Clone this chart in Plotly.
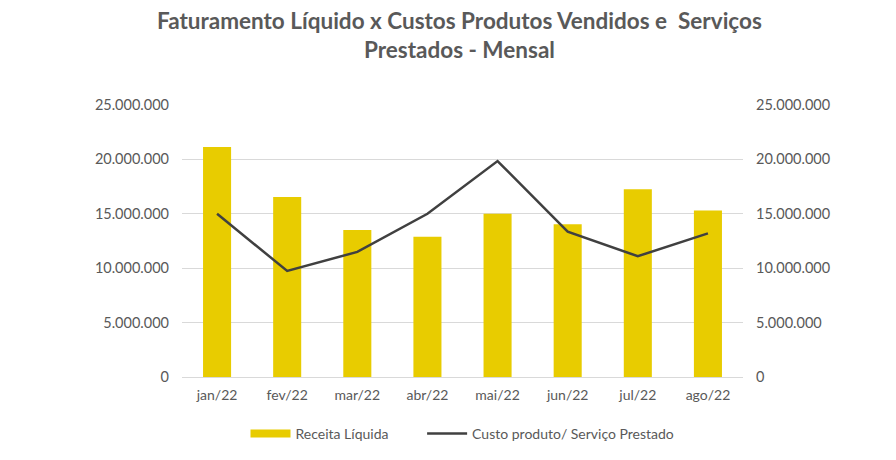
import plotly.graph_objects as go

months = ["jan/22", "fev/22", "mar/22", "abr/22", "mai/22", "jun/22", "jul/22", "ago/22"]
receita_liquida = [21150000, 16550000, 13500000, 12900000, 15000000, 14030000, 17250000, 15300000]
custo_servico = [15000000, 9750000, 11500000, 15000000, 19850000, 13350000, 11100000, 13200000]
tick_vals = [0, 5000000, 10000000, 15000000, 20000000, 25000000]

FONT = "Lato, 'Open Sans', sans-serif"
GREY = "#595959"
YELLOW = "#E8CC00"

fig = go.Figure()
fig.add_trace(go.Bar(
    x=months, y=receita_liquida, name="Receita Líquida",
    marker=dict(color=YELLOW, line=dict(width=0)),
    yaxis="y", showlegend=False,
))
# legend-only entry so the swatch is a wide bar like the reference
fig.add_trace(go.Scatter(
    x=[None], y=[None], name="Receita Líquida" + "\u00a0" * 8, mode="lines",
    line=dict(color=YELLOW, width=8), yaxis="y", showlegend=True,
))
fig.add_trace(go.Scatter(
    x=months, y=custo_servico, name="Custo produto/ Serviço Prestado",
    mode="lines", line=dict(color="#404040", width=2.5),
    yaxis="y2",
))

fig.update_layout(
    width=896, height=460,
    paper_bgcolor="white", plot_bgcolor="white",
    separators=",.",
    margin=dict(l=174, r=161, t=97, b=91, autoexpand=False),
    bargap=0.6,
    font=dict(family=FONT, color=GREY, size=14),
    annotations=[dict(
        text="<b>Faturamento Líquido x Custos Produtos Vendidos e  Serviços<br>Prestados - Mensal</b>",
        xref="paper", yref="paper", x=0.495, y=1.0, xanchor="center", yanchor="bottom",
        yshift=40, showarrow=False, align="center",
        font=dict(family=FONT, size=22.5, color=GREY),
    )],
    xaxis=dict(
        showgrid=False, showline=True, linecolor="#d9d9d9", linewidth=1,
        ticks="", tickfont=dict(size=14, color=GREY), ticklabelstandoff=5,
        automargin=False,
    ),
    yaxis=dict(
        range=[0, 25000000], tickvals=tick_vals, tickformat=",d",
        showgrid=True, gridcolor="#d9d9d9", gridwidth=1, zeroline=False,
        showline=False, ticks="", ticklabelstandoff=12,
        tickfont=dict(size=14.5, color=GREY), automargin=False,
    ),
    yaxis2=dict(
        range=[0, 25000000], tickvals=tick_vals, tickformat=",d",
        overlaying="y", side="right", showgrid=False, zeroline=False,
        showline=False, ticks="", ticklabelstandoff=12,
        tickfont=dict(size=14.5, color=GREY), automargin=False,
    ),
    legend=dict(
        orientation="h", x=0.5, xanchor="center", y=-0.15, yanchor="top",
        font=dict(size=14, color=GREY), itemwidth=40,
    ),
)

fig.write_html("out.html")
